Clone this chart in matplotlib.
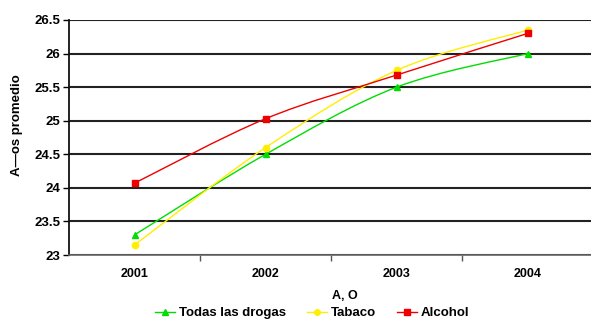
import numpy as np
import matplotlib.pyplot as plt
from matplotlib.path import Path
from matplotlib.patches import PathPatch
from matplotlib.lines import Line2D

plt.rcParams['font.family'] = ['Liberation Sans', 'DejaVu Sans']
plt.rcParams['font.weight'] = 'bold'

# datos
anios = ['2001', '2002', '2003', '2004']
todas = [23.3, 24.5, 25.5, 26.0]
tabaco = [23.15, 24.6, 25.75, 26.35]
alcohol = [24.07, 25.03, 25.68, 26.3]


def curva_suave(xs, ys):
    # curva tipo Excel: bezier cubica que pasa por todos los puntos
    pts = np.column_stack([xs, ys]).astype(float)
    verts = [pts[0]]
    codes = [Path.MOVETO]
    n = len(pts)
    for i in range(n - 1):
        p0 = pts[i - 1] if i > 0 else pts[i]
        p1 = pts[i]
        p2 = pts[i + 1]
        p3 = pts[i + 2] if i + 2 < n else pts[i + 1]
        c1 = p1 + (p2 - p0) / 6.0
        c2 = p2 - (p3 - p1) / 6.0
        verts += [c1, c2, p2]
        codes += [Path.CURVE4] * 3
    return Path(verts, codes)


fig = plt.figure(figsize=(5.91, 3.22), dpi=100)
ax = fig.add_axes([0.1168, 0.208, 0.887, 0.730])

x = np.arange(len(anios))
series = [
    (todas, '#00dd00', '^', 'Todas las drogas'),
    (tabaco, '#ffee00', 'o', 'Tabaco'),
    (alcohol, '#ee0000', 's', 'Alcohol'),
]

for vals, color, marca, nombre in series:
    ax.add_patch(PathPatch(curva_suave(x, vals), fill=False, edgecolor=color,
                           linewidth=1.0, zorder=3))
    ax.plot(x, vals, linestyle='none', marker=marca, color=color,
            markersize=4.5, zorder=4)

ax.set_xlim(-0.5, 3.5)
ax.set_ylim(23, 26.5)
ax.set_yticks(np.arange(23, 26.51, 0.5))
ax.set_yticklabels(['%g' % v for v in np.arange(23, 26.51, 0.5)], fontsize=9.5)
ax.yaxis.grid(True, color='#222222', linewidth=1.5)
ax.set_axisbelow(True)

ax.set_xticks(x)
ax.set_xticklabels(anios, fontsize=9)
ax.set_xticks(x[:-1] + 0.5, minor=True)
ax.tick_params(axis='x', which='major', length=0, pad=9)
ax.tick_params(axis='x', which='minor', length=4, color='#555555', width=1)
ax.tick_params(axis='y', length=4, width=1, pad=2)

for lado in ['top', 'right']:
    ax.spines[lado].set_visible(False)
ax.spines['left'].set_linewidth(1.3)
ax.spines['left'].set_color('#111111')
ax.spines['bottom'].set_color('#666666')
ax.spines['bottom'].set_linewidth(1.2)

fig.text(17 / 591, 1 - 125 / 322, 'A—os promedio', rotation=90,
         ha='center', va='center', fontsize=9.5)
fig.text(345 / 591, 1 - 296 / 322, 'A‚ O', ha='center', va='center',
         fontsize=9)

manejadores = [Line2D([0], [0], color=c, marker=m, markersize=4, linewidth=1)
               for _, c, m, _ in series]
fig.legend(manejadores, [s[3] for s in series], loc='center',
           bbox_to_anchor=(312 / 591, 1 - 313 / 322), ncol=3, frameon=False,
           fontsize=9.5, handlelength=1.5, handletextpad=0.3, columnspacing=1.6,
           borderaxespad=0)

fig.savefig('out.png', dpi=100)
